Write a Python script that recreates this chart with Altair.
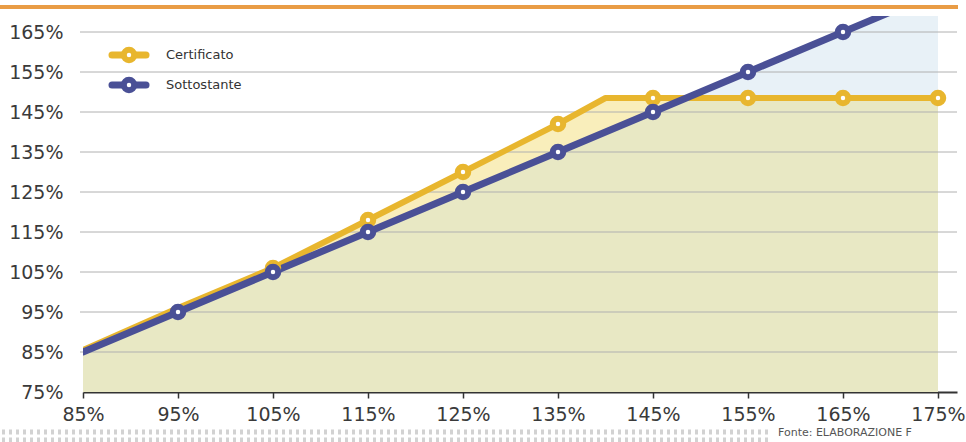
import altair as alt
import pandas as pd
import numpy as np

# ---- data ----
cert_x = [85, 95, 105, 115, 125, 135, 140, 145, 155, 165, 175]
cert_y = [85.5, 96, 106, 118, 130, 142, 148.5, 148.5, 148.5, 148.5, 148.5]
cert_markers = [105, 115, 125, 135, 145, 155, 165, 175]

sott_x = [85, 95, 105, 115, 125, 135, 145, 155, 165, 175]
sott_y = [85, 95, 105, 115, 125, 135, 145, 155, 165, 175]
sott_markers = [95, 105, 115, 125, 135, 145, 155, 165]

x_ticks = [85, 95, 105, 115, 125, 135, 145, 155, 165, 175]
y_ticks = [75, 85, 95, 105, 115, 125, 135, 145, 155, 165]
series_names = ["Certificato", "Sottostante"]
source_note = "Fonte: ELABORAZIONE F"

YELLOW = "#e8b62e"
BLUE = "#4a5096"
FILL_YELLOW = "#f9eebb"
FILL_BLUE = "#e8f1f7"
FILL_BOTH = "#e8e8c4"

W, H = 874, 376

cert = pd.DataFrame({"x": cert_x, "y": cert_y})
cert["m"] = cert["x"].isin(cert_markers)
sott = pd.DataFrame({"x": sott_x, "y": sott_y})
sott["m"] = sott["x"].isin(sott_markers)

# lower envelope of the two series (where both areas overlap)
grid_x = sorted(set(cert_x) | set(sott_x))
c = np.interp(grid_x, cert_x, cert_y)
s = np.interp(grid_x, sott_x, sott_y)
env_x, env_y = [], []
for i in range(len(grid_x)):
    if i > 0:
        d0, d1 = c[i - 1] - s[i - 1], c[i] - s[i]
        if d0 * d1 < 0:
            t = d0 / (d0 - d1)
            xc = grid_x[i - 1] + t * (grid_x[i] - grid_x[i - 1])
            env_x.append(xc)
            env_y.append(float(np.interp(xc, cert_x, cert_y)))
    env_x.append(grid_x[i])
    env_y.append(min(c[i], s[i]))
env = pd.DataFrame({"x": env_x, "y": env_y})

xs = alt.Scale(domain=[85, 177], nice=False, zero=False)
ys = alt.Scale(domain=[75, 169], nice=False, zero=False)

xaxis = alt.Axis(values=x_ticks, labelExpr="datum.value + '%'", title=None,
                 grid=False, domain=True, domainColor="#333333", domainWidth=2,
                 ticks=True, tickColor="#333333", tickSize=6, tickWidth=1.5,
                 labelFont="DejaVu Sans", labelFontSize=19, labelColor="#3a3a3a",
                 labelPadding=7, labelFlush=False)
yaxis = alt.Axis(values=y_ticks, labelExpr="datum.value + '%'", title=None,
                 grid=False, domain=False, ticks=False,
                 labelFont="DejaVu Sans", labelFontSize=19, labelColor="#3a3a3a",
                 labelPadding=20)

X = alt.X("x:Q", scale=xs, axis=xaxis)
Y = alt.Y("y:Q", scale=ys, axis=yaxis)

area_blue = alt.Chart(sott).mark_area(color=FILL_BLUE, clip=True).encode(x=X, y=Y)
area_yellow = alt.Chart(cert).mark_area(color=FILL_YELLOW, clip=True).encode(x=X, y=Y)
area_both = alt.Chart(env).mark_area(color=FILL_BOTH, clip=True).encode(x=X, y=Y)

grid = alt.Chart(pd.DataFrame({"y": y_ticks[1:]})).mark_rule(
    color="#b0b0b0", strokeWidth=1
).encode(y=Y, x=alt.value(-3), x2=alt.value(W))

line_cert = alt.Chart(cert).mark_line(color=YELLOW, strokeWidth=6, clip=True,
                                      strokeCap="round", strokeJoin="round").encode(x=X, y=Y)
line_sott = alt.Chart(sott).mark_line(color=BLUE, strokeWidth=7, clip=True,
                                      strokeCap="round", strokeJoin="round").encode(x=X, y=Y)

pts_cert = alt.Chart(cert).transform_filter("datum.m").mark_point(
    shape="circle", filled=False, fill="white", fillOpacity=1, stroke=YELLOW,
    strokeWidth=6, size=110, opacity=1, clip=True).encode(x=X, y=Y)
pts_sott = alt.Chart(sott).transform_filter("datum.m").mark_point(
    shape="circle", filled=False, fill="white", fillOpacity=1, stroke=BLUE,
    strokeWidth=6, size=110, opacity=1, clip=True).encode(x=X, y=Y)

# ---- legend ----
leg = pd.DataFrame({"name": series_names})
def legend_item(i, color, ypix):
    d = leg.iloc[[i]]
    r = alt.Chart(d).mark_rule(color=color, strokeWidth=7, strokeCap="round").encode(
        x=alt.value(29), x2=alt.value(63), y=alt.value(ypix))
    p = alt.Chart(d).mark_point(shape="circle", filled=False, fill="white", fillOpacity=1,
                                stroke=color, strokeWidth=6, size=110, opacity=1).encode(
        x=alt.value(46), y=alt.value(ypix))
    t = alt.Chart(d).mark_text(align="left", baseline="middle", font="DejaVu Sans",
                               fontSize=13, color="#333333").encode(
        x=alt.value(83), y=alt.value(ypix), text="name:N")
    return r + p + t

legend = legend_item(0, YELLOW, 39) + legend_item(1, BLUE, 69)

# ---- decorations ----
deco_df = pd.DataFrame({"t": [source_note]})
title_bar = alt.Chart(deco_df).mark_rule(color="#e99c45", strokeWidth=4).encode(
    x=alt.value(-83), x2=alt.value(875), y=alt.value(-9))
dots1 = alt.Chart(deco_df).mark_rule(color="#d2d2d2", strokeWidth=5, strokeDash=[3, 4]).encode(
    x=alt.value(-81), x2=alt.value(688), y=alt.value(416))
dots2 = alt.Chart(deco_df).mark_rule(color="#d2d2d2", strokeWidth=5, strokeDash=[3, 4]).encode(
    x=alt.value(-81), x2=alt.value(688), y=alt.value(424))
note = alt.Chart(deco_df).mark_text(align="left", baseline="middle", font="DejaVu Sans",
                                    fontSize=11, color="#555555").encode(
    x=alt.value(695), y=alt.value(417), text="t:N")

chart = alt.layer(
    area_blue, area_yellow, area_both, grid, line_cert, line_sott, pts_cert, pts_sott,
    legend, title_bar, dots1, dots2, note
).properties(
    width=W, height=H, autosize="none",
    padding={"left": 83, "top": 16, "right": 9, "bottom": 50},
    background="white"
).configure_view(stroke=None)

chart.save("out.html", embed_options={"renderer": "svg", "actions": False})
